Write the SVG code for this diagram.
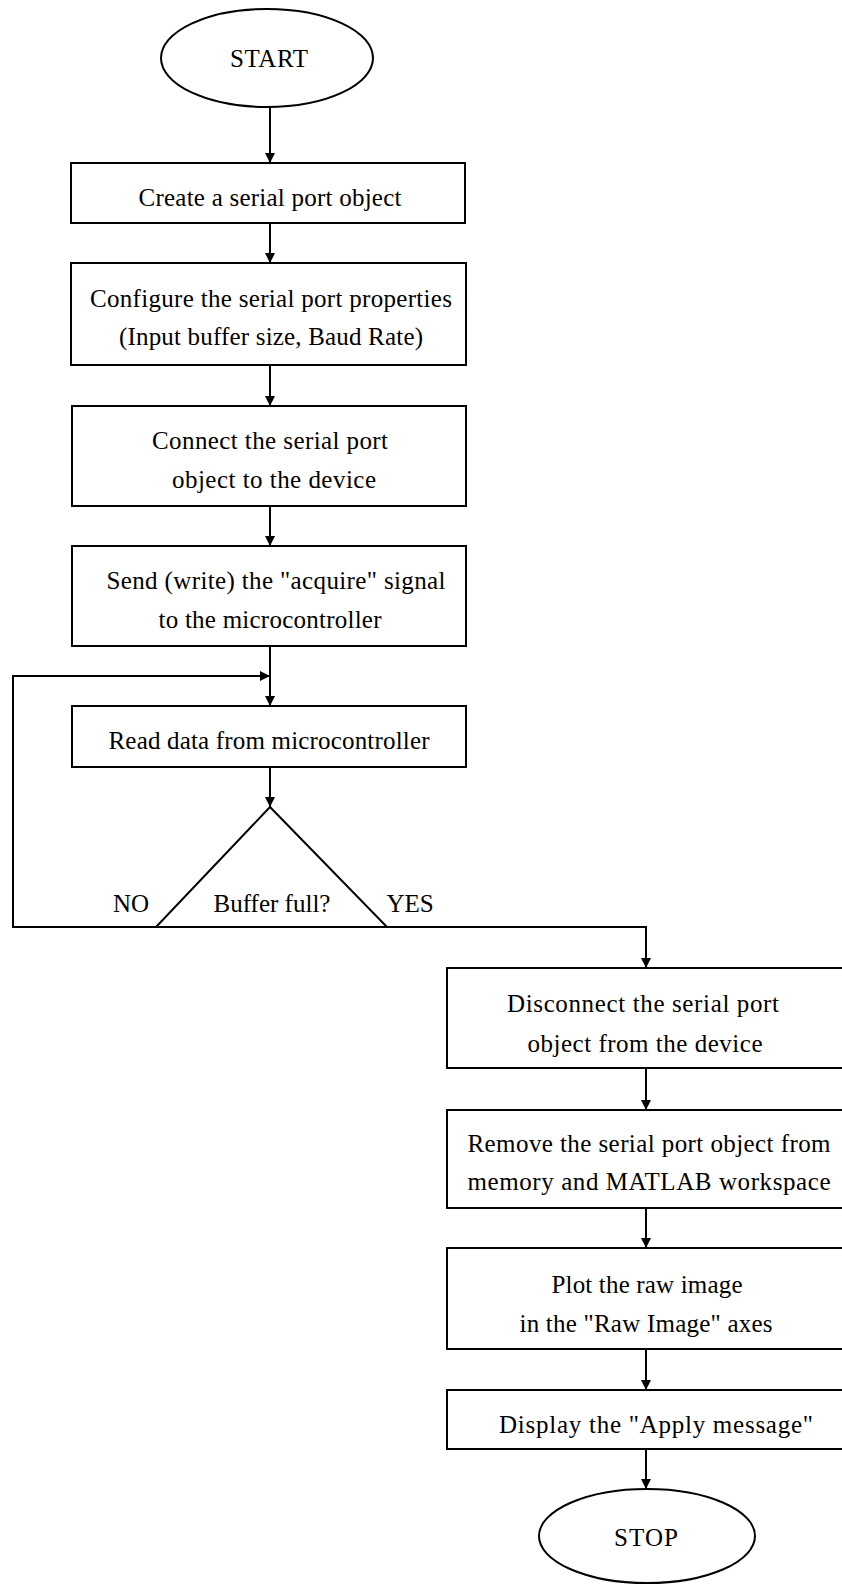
<svg xmlns="http://www.w3.org/2000/svg" width="842" height="1584" viewBox="0 0 842 1584">
<defs>
<marker id="ah" viewBox="0 0 10 10" refX="10" refY="5" markerWidth="10" markerHeight="10" markerUnits="userSpaceOnUse" orient="auto">
<path d="M0,0 L10,5 L0,10 Z" fill="#000"/>
</marker>
<style>
.n{fill:#fff;stroke:#000;stroke-width:2}
.t{font-family:"Liberation Serif","Times New Roman",serif;font-size:25px;fill:#000;text-anchor:middle}
.c{fill:none;stroke:#000;stroke-width:2}
</style>
</defs>
<rect width="842" height="1584" fill="#fff"/>
<g id="connectors">
<line class="c" x1="270" y1="107" x2="270" y2="163" marker-end="url(#ah)"/>
<line class="c" x1="270" y1="223" x2="270" y2="263" marker-end="url(#ah)"/>
<line class="c" x1="270" y1="365" x2="270" y2="406" marker-end="url(#ah)"/>
<line class="c" x1="270" y1="506" x2="270" y2="546" marker-end="url(#ah)"/>
<line class="c" x1="270" y1="646" x2="270" y2="706" marker-end="url(#ah)"/>
<polyline class="c" points="156,927 13,927 13,676 270,676" marker-end="url(#ah)"/>
<line class="c" x1="270" y1="767" x2="270" y2="807" marker-end="url(#ah)"/>
<polyline class="c" points="387,927 646,927 646,968" marker-end="url(#ah)"/>
<line class="c" x1="646" y1="1068" x2="646" y2="1110" marker-end="url(#ah)"/>
<line class="c" x1="646" y1="1208" x2="646" y2="1248" marker-end="url(#ah)"/>
<line class="c" x1="646" y1="1349" x2="646" y2="1390" marker-end="url(#ah)"/>
<line class="c" x1="646" y1="1449" x2="646" y2="1489" marker-end="url(#ah)"/>
</g>
<g id="start">
<ellipse class="n" cx="267" cy="58" rx="106" ry="49"/>
<text class="t" x="269" y="67" textLength="78">START</text>
</g>
<g id="create">
<rect class="n" x="71" y="163" width="394" height="60"/>
<text class="t" x="270" y="206" textLength="263">Create a serial port object</text>
</g>
<g id="configure">
<rect class="n" x="71" y="263" width="395" height="102"/>
<text class="t" x="271" y="307" textLength="362">Configure the serial port properties</text>
<text class="t" x="271" y="345" textLength="304">(Input buffer size, Baud Rate)</text>
</g>
<g id="connect">
<rect class="n" x="72" y="406" width="394" height="100"/>
<text class="t" x="270" y="449" textLength="236">Connect the serial port</text>
<text class="t" x="274" y="488" textLength="204">object to the device</text>
</g>
<g id="send">
<rect class="n" x="72" y="546" width="394" height="100"/>
<text class="t" x="276" y="589" textLength="339">Send (write) the "acquire" signal</text>
<text class="t" x="270" y="628" textLength="223">to the microcontroller</text>
</g>
<g id="read">
<rect class="n" x="72" y="706" width="394" height="61"/>
<text class="t" x="269" y="749" textLength="321">Read data from microcontroller</text>
</g>
<g id="decision">
<polygon class="n" points="270,807 387,927 156,927"/>
<text class="t" x="272" y="912">Buffer full?</text>
<text class="t" x="131" y="912">NO</text>
<text class="t" x="410" y="912">YES</text>
</g>
<g id="disconnect">
<rect class="n" x="447" y="968" width="405" height="100"/>
<text class="t" x="643" y="1012" textLength="272">Disconnect the serial port</text>
<text class="t" x="645" y="1052" textLength="235">object from the device</text>
</g>
<g id="remove">
<rect class="n" x="447" y="1110" width="405" height="98"/>
<text class="t" x="649" y="1152" textLength="363">Remove the serial port object from</text>
<text class="t" x="649" y="1190" textLength="363">memory and MATLAB workspace</text>
</g>
<g id="plot">
<rect class="n" x="447" y="1248" width="405" height="101"/>
<text class="t" x="647" y="1293" textLength="191">Plot the raw image</text>
<text class="t" x="646" y="1332" textLength="253">in the "Raw Image" axes</text>
</g>
<g id="display">
<rect class="n" x="447" y="1390" width="405" height="59"/>
<text class="t" x="656" y="1433" textLength="314">Display the "Apply message"</text>
</g>
<g id="stop">
<ellipse class="n" cx="647" cy="1536" rx="108" ry="47"/>
<text class="t" x="646" y="1546" textLength="64">STOP</text>
</g>
</svg>
